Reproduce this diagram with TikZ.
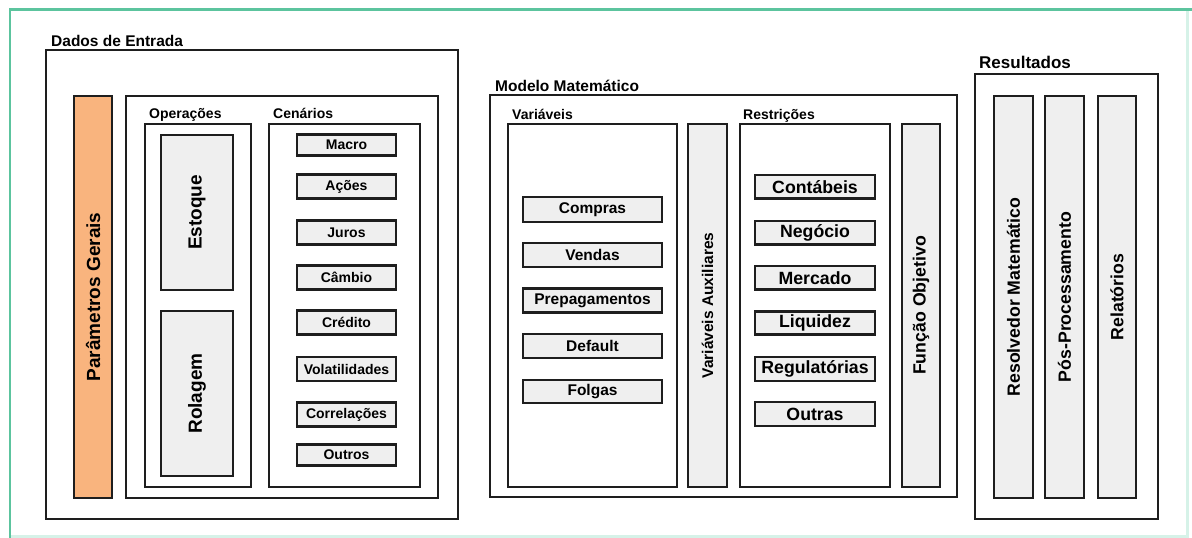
\documentclass[tikz,border=0pt]{standalone}
\usepackage{fontspec}
\setmainfont{Liberation Sans}
\definecolor{frame}{HTML}{5CC49E}
\definecolor{lightframe}{HTML}{D6F2E8}
\definecolor{ink}{HTML}{1E1E1E}
\definecolor{boxgray}{HTML}{EFEFEF}
\definecolor{orangefill}{HTML}{F9B47E}
\tikzset{
  container/.style={draw=ink, line width=2pt, fill=white, inner sep=0pt, outer sep=0pt},
  item/.style={draw=ink, line width=2.4pt, fill=boxgray, inner sep=0pt, outer sep=0pt, font=\bfseries},
  orangebox/.style={item, fill=orangefill},
  grouplabel/.style={anchor=base west, inner sep=0pt, font=\bfseries\fontsize{15.5}{18}\selectfont},
  sublabel/.style={anchor=base west, inner sep=0pt, font=\bfseries\fontsize{14}{16}\selectfont},
  fs14/.style={font=\bfseries\fontsize{14}{16}\selectfont},
  fs155/.style={font=\bfseries\fontsize{15.5}{18}\selectfont},
  fs177/.style={font=\bfseries\fontsize{17.7}{20}\selectfont},
  fs19/.style={font=\bfseries\fontsize{19}{22}\selectfont},
}
% name, x1, y1, x2, y2, style, text
\newcommand\mybox[7]{%
  \node[#6, minimum width={#4-#2}, minimum height={#5-#3}] (#1) at ({(#2+#4)/2},{(#3+#5)/2}) {#7};}
\newcommand\myvbox[7]{%
  \node[#6, rotate=90, minimum width={#5-#3}, minimum height={#4-#2}] (#1) at ({(#2+#4)/2},{(#3+#5)/2}) {#7};}
\begin{document}
\begin{tikzpicture}[x=1pt,y=-1pt]
\useasboundingbox (0,0) rectangle (1192,538);
\fill[white] (0,0) rectangle (1192,538);
% green frame
\draw[lightframe, line width=3pt] (1187,9.5) -- (1187,536) -- (10,536);
\draw[frame, line width=2.6pt] (10,538) -- (10,9.5) -- (1192,9.5);

% ---------- Dados de Entrada ----------
\node[grouplabel] (lbldados) at (51,46.5) {Dados de Entrada};
\mybox{dados}{46}{50}{458}{519}{container}{}
\myvbox{param}{74}{96}{112}{498}{orangebox,fs19}{Parâmetros Gerais}
\mybox{dadosin}{126}{96}{438}{498}{container}{}
\node[sublabel] (lblop) at (149,118.5) {Operações};
\mybox{oper}{145}{124}{251}{487}{container}{}
\myvbox{estoque}{161}{135}{233}{290}{item,fs19}{Estoque}
\myvbox{rolagem}{161}{311}{233}{476}{item,fs19}{Rolagem}
\node[sublabel] (lblcen) at (273,118.5) {Cenários};
\mybox{cen}{269}{124}{420}{487}{container}{}
\mybox{macro}{297}{134.5}{396}{155.5}{item,fs14}{Macro}
\mybox{acoes}{297}{174.5}{396}{198.5}{item,fs14}{Ações}
\mybox{juros}{297}{220.5}{396}{244.5}{item,fs14}{Juros}
\mybox{cambio}{297}{265.5}{396}{289.5}{item,fs14}{Câmbio}
\mybox{credito}{297}{310.5}{396}{334.5}{item,fs14}{Crédito}
\mybox{volat}{297}{357}{396}{381}{item,fs14}{Volatilidades}
\mybox{correl}{297}{402.5}{396}{426.5}{item,fs14}{Correlações}
\mybox{outros}{297}{444.5}{396}{465.5}{item,fs14}{Outros}

% ---------- Modelo Matemático ----------
\node[grouplabel] (lblmod) at (495,91.5) {Modelo Matemático};
\mybox{modelo}{490}{95}{957}{497}{container}{}
\node[sublabel] (lblvar) at (512,119) {Variáveis};
\mybox{var}{508}{124}{677}{487}{container}{}
\mybox{compras}{523}{197}{662}{222}{item,fs155}{Compras}
\mybox{vendas}{523}{243}{662}{267}{item,fs155}{Vendas}
\mybox{prepag}{523}{288.5}{662}{312.5}{item,fs155}{Prepagamentos}
\mybox{default}{523}{334}{662}{358}{item,fs155}{Default}
\mybox{folgas}{523}{380}{662}{403}{item,fs155}{Folgas}
\myvbox{aux}{688}{124}{727}{487}{item,fs155}{Variáveis Auxiliares}
\node[sublabel] (lblres) at (743,119) {Restrições};
\mybox{restr}{740}{124}{890}{487}{container}{}
\mybox{contab}{755}{175}{875}{198.5}{item,fs177}{Contábeis}
\mybox{negocio}{755}{221}{875}{244.5}{item,fs177}{Negócio}
\mybox{mercado}{755}{266}{875}{289.5}{item,fs177}{Mercado}
\mybox{liquidez}{755}{311.5}{875}{334.5}{item,fs177}{Liquidez}
\mybox{regul}{755}{357}{875}{381}{item,fs177}{Regulatórias}
\mybox{outras}{755}{402}{875}{426}{item,fs177}{Outras}
\myvbox{funcao}{902}{124}{940}{487}{item,fs177}{Função Objetivo}

% ---------- Resultados ----------
\node[grouplabel, font=\bfseries\fontsize{17}{20}\selectfont] (lblresul) at (979,68.5) {Resultados};
\mybox{resultados}{975}{74}{1158}{519}{container}{}
\myvbox{resolv}{994}{96}{1033}{498}{item,fs177}{Resolvedor Matemático}
\myvbox{posproc}{1045}{96}{1084}{498}{item,fs177}{Pós-Processamento}
\myvbox{relat}{1098}{96}{1136}{498}{item,fs177}{Relatórios}
\end{tikzpicture}
\end{document}
